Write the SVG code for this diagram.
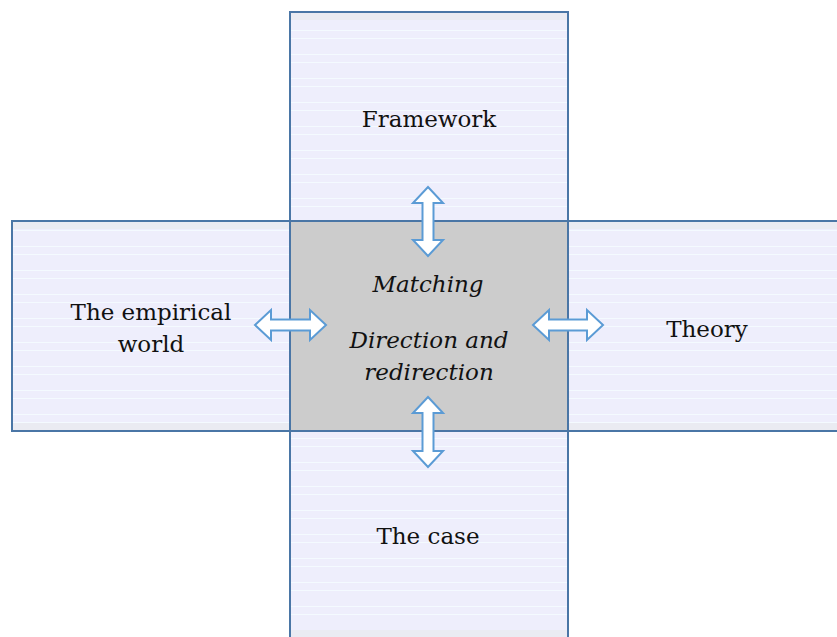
<svg xmlns="http://www.w3.org/2000/svg" width="837" height="637" viewBox="0 0 837 637">
<style>
.box{fill:url(#tex);stroke:#4A76A6;stroke-width:2}
.band{fill:#EAEBF2}
.center{fill:#CCCCCC;stroke:#4A76A6;stroke-width:2}
.lbl{font-family:"DejaVu Serif","Liberation Serif",serif;font-size:23px;fill:#111;text-anchor:middle}
.it{font-style:italic}
.arr{fill:#FFFFFF;stroke:#5B9BD5;stroke-width:2;stroke-linejoin:miter}
</style>
<defs>
<pattern id="tex" patternUnits="userSpaceOnUse" x="0" y="0" width="8" height="24">
<rect width="8" height="24" fill="#EEEEFC"/>
<rect y="6" width="8" height="1" fill="#F4FAFF"/>
<rect y="14" width="8" height="1" fill="#F4FAFF"/>
</pattern>
</defs>
<rect width="837" height="637" fill="#FFFFFF"/>
<g id="node-framework">
<rect class="box" x="290" y="12" width="278" height="209"/>
<rect class="band" x="291" y="13" width="276" height="7"/>
<text class="lbl" x="429" y="127">Framework</text>
</g>
<g id="node-empirical">
<rect class="box" x="12" y="221" width="278" height="210"/>
<rect class="band" x="13" y="222" width="276" height="7"/>
<rect class="band" x="13" y="423" width="276" height="7"/>
<text class="lbl" x="151" y="320">The empirical</text>
<text class="lbl" x="151" y="352">world</text>
</g>
<g id="node-theory">
<rect class="box" x="568" y="221" width="280" height="210"/>
<rect class="band" x="569" y="222" width="278" height="7"/>
<rect class="band" x="569" y="423" width="278" height="7"/>
<text class="lbl" x="707" y="337">Theory</text>
</g>
<g id="node-case">
<rect class="box" x="290" y="431" width="278" height="216"/>
<rect class="band" x="291" y="630" width="276" height="8"/>
<text class="lbl" x="428" y="544">The case</text>
</g>
<g id="node-center">
<rect class="center" x="290" y="221" width="278" height="210"/>
<text class="lbl it" x="428" y="292">Matching</text>
<text class="lbl it" x="429" y="348">Direction and</text>
<text class="lbl it" x="429" y="380">redirection</text>
</g>
<g id="connectors">
<polygon class="arr" points="428,187 443,203 433.5,203 433.5,240 443,240 428,256 413,240 422.5,240 422.5,203 413,203"/>
<polygon class="arr" points="428,397 443,413 433.5,413 433.5,451 443,451 428,467 413,451 422.5,451 422.5,413 413,413"/>
<polygon class="arr" points="255,325 271,310 271,319.5 310,319.5 310,310 326,325 310,340 310,330.5 271,330.5 271,340"/>
<polygon class="arr" points="533,325 549,310 549,319.5 587,319.5 587,310 603,325 587,340 587,330.5 549,330.5 549,340"/>
</g>
</svg>
